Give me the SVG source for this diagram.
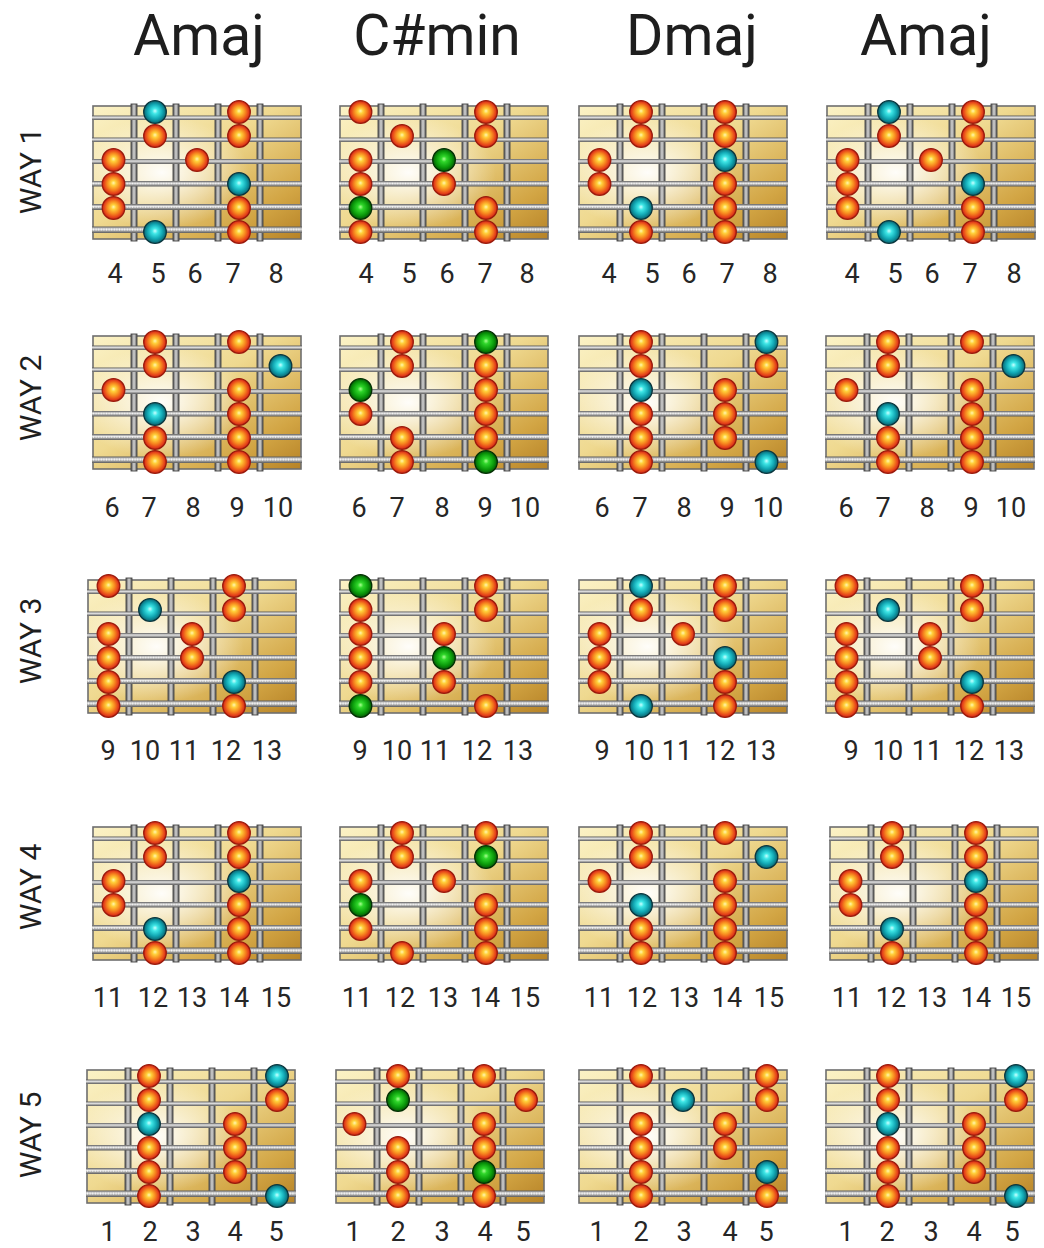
<svg xmlns="http://www.w3.org/2000/svg" xmlns:xlink="http://www.w3.org/1999/xlink" width="1044" height="1248" viewBox="0 0 1044 1248">
<style>
.title{font-family:Roboto,"Liberation Sans",sans-serif;font-size:57px;fill:#1e1e1e;text-anchor:middle}
.way{font-family:Roboto,"Liberation Sans",sans-serif;font-size:30px;fill:#1e1e1e;text-anchor:middle}
.num{font-family:Roboto,"Liberation Sans",sans-serif;font-size:27px;fill:#262626;text-anchor:middle}
.o{fill:url(#gO);stroke:#9a1a0c;stroke-width:1.3}
.t{fill:url(#gT);stroke:#0a363e;stroke-width:1.3}
.g{fill:url(#gG);stroke:#033003;stroke-width:1.3}
</style>
<defs>
<linearGradient id="wood" x1="0" y1="0" x2="1" y2="1">
<stop offset="0" stop-color="#fbf2c6"/>
<stop offset="0.45" stop-color="#efd990"/>
<stop offset="0.8" stop-color="#d2a544"/>
<stop offset="1" stop-color="#b68226"/>
</linearGradient>
<radialGradient id="glow" cx="0.33" cy="0.5" r="0.42">
<stop offset="0" stop-color="#ffffff" stop-opacity="0.95"/>
<stop offset="1" stop-color="#ffffff" stop-opacity="0"/>
</radialGradient>
<linearGradient id="fretG" x1="0" y1="0" x2="1" y2="0">
<stop offset="0" stop-color="#555555"/>
<stop offset="0.5" stop-color="#d4d4d4"/>
<stop offset="1" stop-color="#555555"/>
</linearGradient>
<linearGradient id="strG" x1="0" y1="0" x2="0" y2="1">
<stop offset="0" stop-color="#5e5e5e"/>
<stop offset="0.4" stop-color="#e4e4e4"/>
<stop offset="1" stop-color="#5a5a5a"/>
</linearGradient>
<radialGradient id="gO" cx="0.5" cy="0.5" r="0.5" fx="0.5" fy="0.45">
<stop offset="0" stop-color="#fff6b0"/>
<stop offset="0.22" stop-color="#ffd03a"/>
<stop offset="0.55" stop-color="#f7891f"/>
<stop offset="0.85" stop-color="#e4401a"/>
<stop offset="1" stop-color="#c22412"/>
</radialGradient>
<radialGradient id="gT" cx="0.5" cy="0.5" r="0.5" fx="0.5" fy="0.45">
<stop offset="0" stop-color="#c8ffff"/>
<stop offset="0.25" stop-color="#3ee6e6"/>
<stop offset="0.65" stop-color="#12a8b4"/>
<stop offset="1" stop-color="#0a6470"/>
</radialGradient>
<radialGradient id="gG" cx="0.5" cy="0.5" r="0.5" fx="0.5" fy="0.45">
<stop offset="0" stop-color="#a8ff90"/>
<stop offset="0.25" stop-color="#2fd62a"/>
<stop offset="0.7" stop-color="#0a9a0a"/>
<stop offset="1" stop-color="#065806"/>
</radialGradient>
<g id="board">
<rect x="0" y="0" width="208" height="133" fill="url(#wood)"/>
<rect x="0" y="0" width="208" height="133" fill="url(#glow)"/>
<rect x="0" y="0" width="208" height="133" fill="none" stroke="#6e6e6e" stroke-width="1.6"/>
<rect x="38" y="-2" width="6" height="137" fill="url(#fretG)" stroke="#444" stroke-width="0.9"/>
<rect x="80" y="-2" width="6" height="137" fill="url(#fretG)" stroke="#444" stroke-width="0.9"/>
<rect x="122" y="-2" width="6" height="137" fill="url(#fretG)" stroke="#444" stroke-width="0.9"/>
<rect x="164" y="-2" width="6" height="137" fill="url(#fretG)" stroke="#444" stroke-width="0.9"/>
<rect x="-1" y="9.5" width="210" height="4.5" fill="url(#strG)"/>
<rect x="-1" y="31.5" width="210" height="4.5" fill="url(#strG)"/>
<rect x="-1" y="53" width="210" height="5" fill="url(#strG)"/>
<rect x="-1" y="75" width="210" height="5.5" fill="url(#strG)"/>
<line x1="0" y1="77.5" x2="208" y2="77.5" stroke="#f2f2f2" stroke-width="1.6" stroke-dasharray="1 1.6"/>
<rect x="-1" y="98" width="210" height="6" fill="url(#strG)"/>
<line x1="0" y1="100.8" x2="208" y2="100.8" stroke="#f2f2f2" stroke-width="1.8" stroke-dasharray="1 1.6"/>
<rect x="-1" y="120.5" width="210" height="6.5" fill="url(#strG)"/>
<line x1="0" y1="123.6" x2="208" y2="123.6" stroke="#f4f4f4" stroke-width="2" stroke-dasharray="1 1.6"/>
</g>
</defs>
<rect width="1044" height="1248" fill="#ffffff"/>
<g id="titles">
<text class="title" x="199" y="55">Amaj</text>
<text class="title" x="437" y="55">C#min</text>
<text class="title" x="692" y="55">Dmaj</text>
<text class="title" x="926" y="55">Amaj</text>
</g>
<g id="way-labels">
<text class="way" transform="translate(41,171) rotate(-90)">WAY 1</text>
<text class="way" transform="translate(41,398) rotate(-90)">WAY 2</text>
<text class="way" transform="translate(41,641) rotate(-90)">WAY 3</text>
<text class="way" transform="translate(41,887) rotate(-90)">WAY 4</text>
<text class="way" transform="translate(41,1135) rotate(-90)">WAY 5</text>
</g>
<g id="connectors"></g>

<!-- ROW 1 -->
<g id="amaj-way1" transform="translate(93,106)">
<use href="#board"/>
<circle class="t" cx="62" cy="6" r="11.3"/><circle class="o" cx="146" cy="6" r="11.3"/>
<circle class="o" cx="62" cy="30" r="11.3"/><circle class="o" cx="146" cy="30" r="11.3"/>
<circle class="o" cx="20.5" cy="54" r="11.3"/><circle class="o" cx="104" cy="54" r="11.3"/>
<circle class="o" cx="20.5" cy="78" r="11.3"/><circle class="t" cx="146" cy="78" r="11.3"/>
<circle class="o" cx="20.5" cy="102" r="11.3"/><circle class="o" cx="146" cy="102" r="11.3"/>
<circle class="t" cx="62" cy="126" r="11.3"/><circle class="o" cx="146" cy="126" r="11.3"/>
</g>
<g id="csmin-way1" transform="translate(340,106)">
<use href="#board"/>
<circle class="o" cx="20.5" cy="6" r="11.3"/><circle class="o" cx="146" cy="6" r="11.3"/>
<circle class="o" cx="62" cy="30" r="11.3"/><circle class="o" cx="146" cy="30" r="11.3"/>
<circle class="o" cx="20.5" cy="54" r="11.3"/><circle class="g" cx="104" cy="54" r="11.3"/>
<circle class="o" cx="20.5" cy="78" r="11.3"/><circle class="o" cx="104" cy="78" r="11.3"/>
<circle class="g" cx="20.5" cy="102" r="11.3"/><circle class="o" cx="146" cy="102" r="11.3"/>
<circle class="o" cx="20.5" cy="126" r="11.3"/><circle class="o" cx="146" cy="126" r="11.3"/>
</g>
<g id="dmaj-way1" transform="translate(579,106)">
<use href="#board"/>
<circle class="o" cx="62" cy="6" r="11.3"/><circle class="o" cx="146" cy="6" r="11.3"/>
<circle class="o" cx="62" cy="30" r="11.3"/><circle class="o" cx="146" cy="30" r="11.3"/>
<circle class="o" cx="20.5" cy="54" r="11.3"/><circle class="t" cx="146" cy="54" r="11.3"/>
<circle class="o" cx="20.5" cy="78" r="11.3"/><circle class="o" cx="146" cy="78" r="11.3"/>
<circle class="t" cx="62" cy="102" r="11.3"/><circle class="o" cx="146" cy="102" r="11.3"/>
<circle class="o" cx="62" cy="126" r="11.3"/><circle class="o" cx="146" cy="126" r="11.3"/>
</g>
<g id="amaj2-way1" transform="translate(827,106)">
<use href="#board"/>
<circle class="t" cx="62" cy="6" r="11.3"/><circle class="o" cx="146" cy="6" r="11.3"/>
<circle class="o" cx="62" cy="30" r="11.3"/><circle class="o" cx="146" cy="30" r="11.3"/>
<circle class="o" cx="20.5" cy="54" r="11.3"/><circle class="o" cx="104" cy="54" r="11.3"/>
<circle class="o" cx="20.5" cy="78" r="11.3"/><circle class="t" cx="146" cy="78" r="11.3"/>
<circle class="o" cx="20.5" cy="102" r="11.3"/><circle class="o" cx="146" cy="102" r="11.3"/>
<circle class="t" cx="62" cy="126" r="11.3"/><circle class="o" cx="146" cy="126" r="11.3"/>
</g>
<g id="frets-row1">
<text class="num" x="115" y="283">4</text><text class="num" x="158" y="283">5</text><text class="num" x="195" y="283">6</text><text class="num" x="233" y="283">7</text><text class="num" x="276" y="283">8</text>
<text class="num" x="366" y="283">4</text><text class="num" x="409" y="283">5</text><text class="num" x="447" y="283">6</text><text class="num" x="485" y="283">7</text><text class="num" x="527" y="283">8</text>
<text class="num" x="609" y="283">4</text><text class="num" x="652" y="283">5</text><text class="num" x="689" y="283">6</text><text class="num" x="727" y="283">7</text><text class="num" x="770" y="283">8</text>
<text class="num" x="852" y="283">4</text><text class="num" x="895" y="283">5</text><text class="num" x="932" y="283">6</text><text class="num" x="970" y="283">7</text><text class="num" x="1014" y="283">8</text>
</g>

<!-- ROW 2 -->
<g id="amaj-way2" transform="translate(93,336)">
<use href="#board"/>
<circle class="o" cx="62" cy="6" r="11.3"/><circle class="o" cx="146" cy="6" r="11.3"/>
<circle class="o" cx="62" cy="30" r="11.3"/><circle class="t" cx="187.5" cy="30" r="11.3"/>
<circle class="o" cx="20.5" cy="54" r="11.3"/><circle class="o" cx="146" cy="54" r="11.3"/>
<circle class="t" cx="62" cy="78" r="11.3"/><circle class="o" cx="146" cy="78" r="11.3"/>
<circle class="o" cx="62" cy="102" r="11.3"/><circle class="o" cx="146" cy="102" r="11.3"/>
<circle class="o" cx="62" cy="126" r="11.3"/><circle class="o" cx="146" cy="126" r="11.3"/>
</g>
<g id="csmin-way2" transform="translate(340,336)">
<use href="#board"/>
<circle class="o" cx="62" cy="6" r="11.3"/><circle class="g" cx="146" cy="6" r="11.3"/>
<circle class="o" cx="62" cy="30" r="11.3"/><circle class="o" cx="146" cy="30" r="11.3"/>
<circle class="g" cx="20.5" cy="54" r="11.3"/><circle class="o" cx="146" cy="54" r="11.3"/>
<circle class="o" cx="20.5" cy="78" r="11.3"/><circle class="o" cx="146" cy="78" r="11.3"/>
<circle class="o" cx="62" cy="102" r="11.3"/><circle class="o" cx="146" cy="102" r="11.3"/>
<circle class="o" cx="62" cy="126" r="11.3"/><circle class="g" cx="146" cy="126" r="11.3"/>
</g>
<g id="dmaj-way2" transform="translate(579,336)">
<use href="#board"/>
<circle class="o" cx="62" cy="6" r="11.3"/><circle class="t" cx="187.5" cy="6" r="11.3"/>
<circle class="o" cx="62" cy="30" r="11.3"/><circle class="o" cx="187.5" cy="30" r="11.3"/>
<circle class="t" cx="62" cy="54" r="11.3"/><circle class="o" cx="146" cy="54" r="11.3"/>
<circle class="o" cx="62" cy="78" r="11.3"/><circle class="o" cx="146" cy="78" r="11.3"/>
<circle class="o" cx="62" cy="102" r="11.3"/><circle class="o" cx="146" cy="102" r="11.3"/>
<circle class="o" cx="62" cy="126" r="11.3"/><circle class="t" cx="187.5" cy="126" r="11.3"/>
</g>
<g id="amaj2-way2" transform="translate(826,336)">
<use href="#board"/>
<circle class="o" cx="62" cy="6" r="11.3"/><circle class="o" cx="146" cy="6" r="11.3"/>
<circle class="o" cx="62" cy="30" r="11.3"/><circle class="t" cx="187.5" cy="30" r="11.3"/>
<circle class="o" cx="20.5" cy="54" r="11.3"/><circle class="o" cx="146" cy="54" r="11.3"/>
<circle class="t" cx="62" cy="78" r="11.3"/><circle class="o" cx="146" cy="78" r="11.3"/>
<circle class="o" cx="62" cy="102" r="11.3"/><circle class="o" cx="146" cy="102" r="11.3"/>
<circle class="o" cx="62" cy="126" r="11.3"/><circle class="o" cx="146" cy="126" r="11.3"/>
</g>
<g id="frets-row2">
<text class="num" x="112" y="517">6</text><text class="num" x="149" y="517">7</text><text class="num" x="193" y="517">8</text><text class="num" x="237" y="517">9</text><text class="num" x="278" y="517">10</text>
<text class="num" x="359" y="517">6</text><text class="num" x="397" y="517">7</text><text class="num" x="442" y="517">8</text><text class="num" x="485" y="517">9</text><text class="num" x="525" y="517">10</text>
<text class="num" x="602" y="517">6</text><text class="num" x="640" y="517">7</text><text class="num" x="684" y="517">8</text><text class="num" x="727" y="517">9</text><text class="num" x="768" y="517">10</text>
<text class="num" x="846" y="517">6</text><text class="num" x="883" y="517">7</text><text class="num" x="927" y="517">8</text><text class="num" x="971" y="517">9</text><text class="num" x="1011" y="517">10</text>
</g>

<!-- ROW 3 -->
<g id="amaj-way3" transform="translate(88,580)">
<use href="#board"/>
<circle class="o" cx="20.5" cy="6" r="11.3"/><circle class="o" cx="146" cy="6" r="11.3"/>
<circle class="t" cx="62" cy="30" r="11.3"/><circle class="o" cx="146" cy="30" r="11.3"/>
<circle class="o" cx="20.5" cy="54" r="11.3"/><circle class="o" cx="104" cy="54" r="11.3"/>
<circle class="o" cx="20.5" cy="78" r="11.3"/><circle class="o" cx="104" cy="78" r="11.3"/>
<circle class="o" cx="20.5" cy="102" r="11.3"/><circle class="t" cx="146" cy="102" r="11.3"/>
<circle class="o" cx="20.5" cy="126" r="11.3"/><circle class="o" cx="146" cy="126" r="11.3"/>
</g>
<g id="csmin-way3" transform="translate(340,580)">
<use href="#board"/>
<circle class="g" cx="20.5" cy="6" r="11.3"/><circle class="o" cx="146" cy="6" r="11.3"/>
<circle class="o" cx="20.5" cy="30" r="11.3"/><circle class="o" cx="146" cy="30" r="11.3"/>
<circle class="o" cx="20.5" cy="54" r="11.3"/><circle class="o" cx="104" cy="54" r="11.3"/>
<circle class="o" cx="20.5" cy="78" r="11.3"/><circle class="g" cx="104" cy="78" r="11.3"/>
<circle class="o" cx="20.5" cy="102" r="11.3"/><circle class="o" cx="104" cy="102" r="11.3"/>
<circle class="g" cx="20.5" cy="126" r="11.3"/><circle class="o" cx="146" cy="126" r="11.3"/>
</g>
<g id="dmaj-way3" transform="translate(579,580)">
<use href="#board"/>
<circle class="t" cx="62" cy="6" r="11.3"/><circle class="o" cx="146" cy="6" r="11.3"/>
<circle class="o" cx="62" cy="30" r="11.3"/><circle class="o" cx="146" cy="30" r="11.3"/>
<circle class="o" cx="20.5" cy="54" r="11.3"/><circle class="o" cx="104" cy="54" r="11.3"/>
<circle class="o" cx="20.5" cy="78" r="11.3"/><circle class="t" cx="146" cy="78" r="11.3"/>
<circle class="o" cx="20.5" cy="102" r="11.3"/><circle class="o" cx="146" cy="102" r="11.3"/>
<circle class="t" cx="62" cy="126" r="11.3"/><circle class="o" cx="146" cy="126" r="11.3"/>
</g>
<g id="amaj2-way3" transform="translate(826,580)">
<use href="#board"/>
<circle class="o" cx="20.5" cy="6" r="11.3"/><circle class="o" cx="146" cy="6" r="11.3"/>
<circle class="t" cx="62" cy="30" r="11.3"/><circle class="o" cx="146" cy="30" r="11.3"/>
<circle class="o" cx="20.5" cy="54" r="11.3"/><circle class="o" cx="104" cy="54" r="11.3"/>
<circle class="o" cx="20.5" cy="78" r="11.3"/><circle class="o" cx="104" cy="78" r="11.3"/>
<circle class="o" cx="20.5" cy="102" r="11.3"/><circle class="t" cx="146" cy="102" r="11.3"/>
<circle class="o" cx="20.5" cy="126" r="11.3"/><circle class="o" cx="146" cy="126" r="11.3"/>
</g>
<g id="frets-row3">
<text class="num" x="108" y="760">9</text><text class="num" x="145" y="760">10</text><text class="num" x="184" y="760">11</text><text class="num" x="226" y="760">12</text><text class="num" x="267" y="760">13</text>
<text class="num" x="360" y="760">9</text><text class="num" x="397" y="760">10</text><text class="num" x="435" y="760">11</text><text class="num" x="477" y="760">12</text><text class="num" x="518" y="760">13</text>
<text class="num" x="602" y="760">9</text><text class="num" x="639" y="760">10</text><text class="num" x="677" y="760">11</text><text class="num" x="720" y="760">12</text><text class="num" x="761" y="760">13</text>
<text class="num" x="851" y="760">9</text><text class="num" x="888" y="760">10</text><text class="num" x="927" y="760">11</text><text class="num" x="969" y="760">12</text><text class="num" x="1009" y="760">13</text>
</g>

<!-- ROW 4 -->
<g id="amaj-way4" transform="translate(93,827)">
<use href="#board"/>
<circle class="o" cx="62" cy="6" r="11.3"/><circle class="o" cx="146" cy="6" r="11.3"/>
<circle class="o" cx="62" cy="30" r="11.3"/><circle class="o" cx="146" cy="30" r="11.3"/>
<circle class="o" cx="20.5" cy="54" r="11.3"/><circle class="t" cx="146" cy="54" r="11.3"/>
<circle class="o" cx="20.5" cy="78" r="11.3"/><circle class="o" cx="146" cy="78" r="11.3"/>
<circle class="t" cx="62" cy="102" r="11.3"/><circle class="o" cx="146" cy="102" r="11.3"/>
<circle class="o" cx="62" cy="126" r="11.3"/><circle class="o" cx="146" cy="126" r="11.3"/>
</g>
<g id="csmin-way4" transform="translate(340,827)">
<use href="#board"/>
<circle class="o" cx="62" cy="6" r="11.3"/><circle class="o" cx="146" cy="6" r="11.3"/>
<circle class="o" cx="62" cy="30" r="11.3"/><circle class="g" cx="146" cy="30" r="11.3"/>
<circle class="o" cx="20.5" cy="54" r="11.3"/><circle class="o" cx="104" cy="54" r="11.3"/>
<circle class="g" cx="20.5" cy="78" r="11.3"/><circle class="o" cx="146" cy="78" r="11.3"/>
<circle class="o" cx="20.5" cy="102" r="11.3"/><circle class="o" cx="146" cy="102" r="11.3"/>
<circle class="o" cx="62" cy="126" r="11.3"/><circle class="o" cx="146" cy="126" r="11.3"/>
</g>
<g id="dmaj-way4" transform="translate(579,827)">
<use href="#board"/>
<circle class="o" cx="62" cy="6" r="11.3"/><circle class="o" cx="146" cy="6" r="11.3"/>
<circle class="o" cx="62" cy="30" r="11.3"/><circle class="t" cx="187.5" cy="30" r="11.3"/>
<circle class="o" cx="20.5" cy="54" r="11.3"/><circle class="o" cx="146" cy="54" r="11.3"/>
<circle class="t" cx="62" cy="78" r="11.3"/><circle class="o" cx="146" cy="78" r="11.3"/>
<circle class="o" cx="62" cy="102" r="11.3"/><circle class="o" cx="146" cy="102" r="11.3"/>
<circle class="o" cx="62" cy="126" r="11.3"/><circle class="o" cx="146" cy="126" r="11.3"/>
</g>
<g id="amaj2-way4" transform="translate(830,827)">
<use href="#board"/>
<circle class="o" cx="62" cy="6" r="11.3"/><circle class="o" cx="146" cy="6" r="11.3"/>
<circle class="o" cx="62" cy="30" r="11.3"/><circle class="o" cx="146" cy="30" r="11.3"/>
<circle class="o" cx="20.5" cy="54" r="11.3"/><circle class="t" cx="146" cy="54" r="11.3"/>
<circle class="o" cx="20.5" cy="78" r="11.3"/><circle class="o" cx="146" cy="78" r="11.3"/>
<circle class="t" cx="62" cy="102" r="11.3"/><circle class="o" cx="146" cy="102" r="11.3"/>
<circle class="o" cx="62" cy="126" r="11.3"/><circle class="o" cx="146" cy="126" r="11.3"/>
</g>
<g id="frets-row4">
<text class="num" x="108" y="1007">11</text><text class="num" x="153" y="1007">12</text><text class="num" x="192" y="1007">13</text><text class="num" x="234" y="1007">14</text><text class="num" x="276" y="1007">15</text>
<text class="num" x="357" y="1007">11</text><text class="num" x="400" y="1007">12</text><text class="num" x="443" y="1007">13</text><text class="num" x="485" y="1007">14</text><text class="num" x="525" y="1007">15</text>
<text class="num" x="599" y="1007">11</text><text class="num" x="642" y="1007">12</text><text class="num" x="684" y="1007">13</text><text class="num" x="727" y="1007">14</text><text class="num" x="769" y="1007">15</text>
<text class="num" x="847" y="1007">11</text><text class="num" x="891" y="1007">12</text><text class="num" x="932" y="1007">13</text><text class="num" x="976" y="1007">14</text><text class="num" x="1016" y="1007">15</text>
</g>

<!-- ROW 5 -->
<g id="amaj-way5" transform="translate(87,1070)">
<use href="#board"/>
<circle class="o" cx="62" cy="6" r="11.3"/><circle class="t" cx="190" cy="6" r="11.3"/>
<circle class="o" cx="62" cy="30" r="11.3"/><circle class="o" cx="190" cy="30" r="11.3"/>
<circle class="t" cx="62" cy="54" r="11.3"/><circle class="o" cx="148" cy="54" r="11.3"/>
<circle class="o" cx="62" cy="78" r="11.3"/><circle class="o" cx="148" cy="78" r="11.3"/>
<circle class="o" cx="62" cy="102" r="11.3"/><circle class="o" cx="148" cy="102" r="11.3"/>
<circle class="o" cx="62" cy="126" r="11.3"/><circle class="t" cx="190" cy="126" r="11.3"/>
</g>
<g id="csmin-way5" transform="translate(336,1070)">
<use href="#board"/>
<circle class="o" cx="62" cy="6" r="11.3"/><circle class="o" cx="148" cy="6" r="11.3"/>
<circle class="g" cx="62" cy="30" r="11.3"/><circle class="o" cx="190" cy="30" r="11.3"/>
<circle class="o" cx="18.5" cy="54" r="11.3"/><circle class="o" cx="148" cy="54" r="11.3"/>
<circle class="o" cx="62" cy="78" r="11.3"/><circle class="o" cx="148" cy="78" r="11.3"/>
<circle class="o" cx="62" cy="102" r="11.3"/><circle class="g" cx="148" cy="102" r="11.3"/>
<circle class="o" cx="62" cy="126" r="11.3"/><circle class="o" cx="148" cy="126" r="11.3"/>
</g>
<g id="dmaj-way5" transform="translate(579,1070)">
<use href="#board"/>
<circle class="o" cx="62" cy="6" r="11.3"/><circle class="o" cx="188" cy="6" r="11.3"/>
<circle class="t" cx="104" cy="30" r="11.3"/><circle class="o" cx="188" cy="30" r="11.3"/>
<circle class="o" cx="62" cy="54" r="11.3"/><circle class="o" cx="146" cy="54" r="11.3"/>
<circle class="o" cx="62" cy="78" r="11.3"/><circle class="o" cx="146" cy="78" r="11.3"/>
<circle class="o" cx="62" cy="102" r="11.3"/><circle class="t" cx="188" cy="102" r="11.3"/>
<circle class="o" cx="62" cy="126" r="11.3"/><circle class="o" cx="188" cy="126" r="11.3"/>
</g>
<g id="amaj2-way5" transform="translate(826,1070)">
<use href="#board"/>
<circle class="o" cx="62" cy="6" r="11.3"/><circle class="t" cx="190" cy="6" r="11.3"/>
<circle class="o" cx="62" cy="30" r="11.3"/><circle class="o" cx="190" cy="30" r="11.3"/>
<circle class="t" cx="62" cy="54" r="11.3"/><circle class="o" cx="148" cy="54" r="11.3"/>
<circle class="o" cx="62" cy="78" r="11.3"/><circle class="o" cx="148" cy="78" r="11.3"/>
<circle class="o" cx="62" cy="102" r="11.3"/><circle class="o" cx="148" cy="102" r="11.3"/>
<circle class="o" cx="62" cy="126" r="11.3"/><circle class="t" cx="190" cy="126" r="11.3"/>
</g>
<g id="frets-row5">
<text class="num" x="108" y="1241">1</text><text class="num" x="150" y="1241">2</text><text class="num" x="193" y="1241">3</text><text class="num" x="235" y="1241">4</text><text class="num" x="276" y="1241">5</text>
<text class="num" x="353" y="1241">1</text><text class="num" x="398" y="1241">2</text><text class="num" x="442" y="1241">3</text><text class="num" x="485" y="1241">4</text><text class="num" x="523" y="1241">5</text>
<text class="num" x="597" y="1241">1</text><text class="num" x="641" y="1241">2</text><text class="num" x="684" y="1241">3</text><text class="num" x="730" y="1241">4</text><text class="num" x="766" y="1241">5</text>
<text class="num" x="846" y="1241">1</text><text class="num" x="887" y="1241">2</text><text class="num" x="931" y="1241">3</text><text class="num" x="974" y="1241">4</text><text class="num" x="1012" y="1241">5</text>
</g>
</svg>
